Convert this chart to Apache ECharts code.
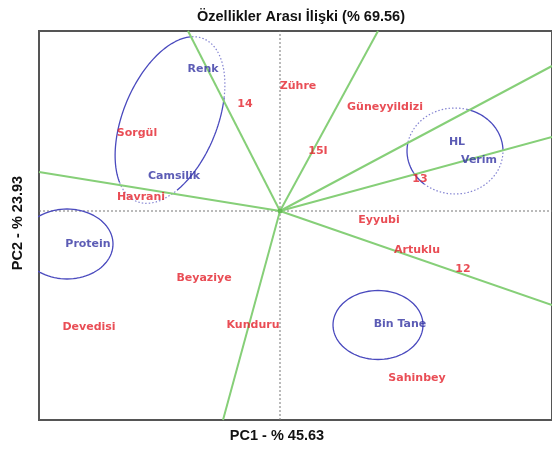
<!DOCTYPE html>
<html>
<head>
<meta charset="utf-8">
<script src="https://cdn.jsdelivr.net/npm/echarts@6/dist/echarts.min.js"></script>
<style>
  html, body { margin: 0; padding: 0; background: #fff; }
  #chart { width: 552px; height: 450px; }
</style>
</head>
<body>
<div id="chart"></div>
<script>
  // genotypes (red) - biplot scores
  var genotypes = ['Zühre', 'Güneyyildizi', '15I', '14', '13', 'Sorgül', 'Havrani', 'Eyyubi', 'Artuklu', '12', 'Sahinbey', 'Beyaziye', 'Devedisi', 'Kunduru'];
  var genoX = [0.18, 1.05, 0.38, -0.35, 1.40, -1.43, -1.39, 0.99, 1.37, 1.83, 1.37, -0.76, -1.91, -0.27];
  var genoY = [1.25, 1.04, 0.60, 1.07, 0.32, 0.78, 0.14, -0.09, -0.39, -0.58, -1.67, -0.67, -1.16, -1.14];

  // traits (blue)
  var traits = ['Renk', 'Camsilik', 'HL', 'Verim', 'Protein', 'Bin Tane'];
  var traitX = [-0.77, -1.06, 1.77, 1.99, -1.92, 1.20];
  var traitY = [1.42, 0.35, 0.69, 0.51, -0.33, -1.13];

  // vectors from the origin
  var vectorX = [-0.92, -0.57, -2.41, 0.98, 2.72, 2.72, 2.72];
  var vectorY = [1.80, -2.09, 0.39, 1.80, 1.45, 0.74, -0.94];

  // group ellipses
  var ellCx = [-1.10, 1.75, -2.13, 0.98];
  var ellCy = [0.91, 0.60, -0.33, -1.14];
  var ellRx = [0.88, 0.48, 0.46, 0.45];
  var ellRy = [0.47, 0.43, 0.35, 0.345];
  var ellAngle = [67.6, 0, 0, 0];
  // arcs: [ellipse, from deg, to deg, dotted]
  var ellArcs = [
    [0, -62, 16, true], [0, 16, 151, false], [0, 151, 225, true], [0, 225, 298, false],
    [1, 0, 75, false], [1, 75, 170, true], [1, 170, 230, false], [1, 230, 360, true],
    [2, 0, 360, false],
    [3, 0, 360, false]
  ];

  var xMin = -2.41, xMax = 2.72, yMin = -2.09, yMax = 1.80;

  function arcPoints(i, t0, t1) {
    var pts = [];
    var a = ellAngle[i] * Math.PI / 180;
    var n = Math.max(8, Math.round(Math.abs(t1 - t0) / 2));
    for (var k = 0; k <= n; k++) {
      var t = (t0 + (t1 - t0) * k / n) * Math.PI / 180;
      var px = ellRx[i] * Math.cos(t), py = ellRy[i] * Math.sin(t);
      pts.push([ellCx[i] + px * Math.cos(a) - py * Math.sin(a),
                ellCy[i] + px * Math.sin(a) + py * Math.cos(a)]);
    }
    return pts;
  }

  var series = [];

  // center dotted lines
  series.push({
    type: 'line', silent: true, symbol: 'none', z: 1,
    lineStyle: { color: '#777', width: 1, type: [2, 2] },
    data: [[0, yMin], [0, yMax]]
  });
  series.push({
    type: 'line', silent: true, symbol: 'none', z: 1,
    lineStyle: { color: '#777', width: 1, type: [2, 2] },
    data: [[xMin, 0], [xMax, 0]]
  });

  // ellipses
  ellArcs.forEach(function (arc) {
    series.push({
      type: 'line', silent: true, symbol: 'none', z: 2, clip: true,
      lineStyle: arc[3] ? { color: '#8484d2', width: 1.2, type: [1.5, 2] } : { color: '#4a4abe', width: 1.3 },
      data: arcPoints(arc[0], arc[1], arc[2])
    });
  });

  // vectors
  series.push({
    type: 'lines', coordinateSystem: 'cartesian2d', silent: true, z: 3,
    lineStyle: { color: '#86cf78', width: 2, opacity: 1 },
    data: vectorX.map(function (x, i) { return { coords: [[0, 0], [x, vectorY[i]]] }; })
  });
  series.push({
    type: 'scatter', silent: true, z: 3, symbolSize: 5,
    itemStyle: { color: '#5bb64a' },
    data: [[0, 0]]
  });

  function labelSeries(names, xs, ys, color) {
    return {
      type: 'scatter', silent: true, z: 5, symbolSize: 0,
      label: {
        show: true, position: 'inside', color: color,
        fontFamily: 'DejaVu Sans', fontWeight: 'bold', fontSize: 11,
        formatter: function (p) { return p.data[2]; }
      },
      data: names.map(function (n, i) { return [xs[i], ys[i], n]; })
    };
  }
  series.push(labelSeries(genotypes, genoX, genoY, '#e3202a'));
  series.push(labelSeries(traits, traitX, traitY, '#3333a3'));

  var chart = echarts.init(document.getElementById('chart'));
  chart.setOption({
    animation: false,
    backgroundColor: '#fff',
    title: {
      text: 'Özellikler Arası İlişki (% 69.56)',
      left: 296, top: 4, textAlign: 'center',
      textStyle: { fontFamily: 'Liberation Sans', fontWeight: 'bold', fontSize: 14.5, color: '#111' }
    },
    grid: { left: 39, right: -2, top: 31, bottom: 30, show: true, borderColor: '#555', borderWidth: 2, backgroundColor: '#fff' },
    xAxis: {
      type: 'value', min: xMin, max: xMax,
      axisLine: { show: false }, axisTick: { show: false }, axisLabel: { show: false }, splitLine: { show: false }
    },
    yAxis: {
      type: 'value', min: yMin, max: yMax,
      axisLine: { show: false }, axisTick: { show: false }, axisLabel: { show: false }, splitLine: { show: false }
    },
    graphic: [
      {
        type: 'text', x: 277, y: 436,
        style: { text: 'PC1 - % 45.63', align: 'center', verticalAlign: 'middle', fill: '#111',
                 font: 'bold 14.5px "Liberation Sans"' }
      },
      {
        type: 'text', x: 18, y: 223, rotation: Math.PI / 2,
        style: { text: 'PC2 - % 23.93', align: 'center', verticalAlign: 'middle', fill: '#111',
                 font: 'bold 14.5px "Liberation Sans"' }
      }
    ],
    series: series
  });
</script>
</body>
</html>
